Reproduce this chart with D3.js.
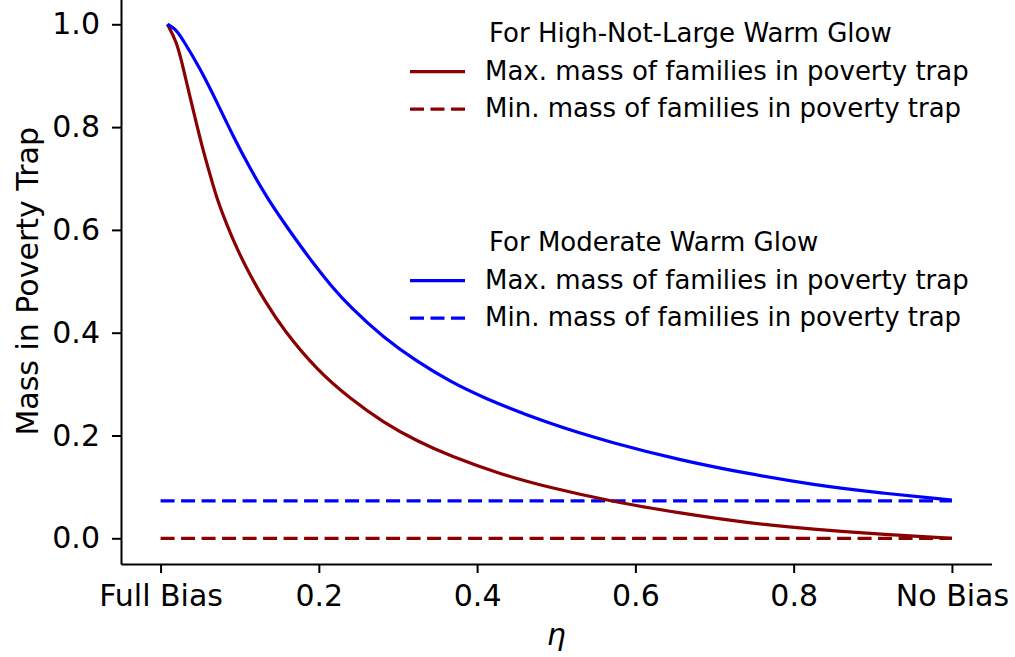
<!DOCTYPE html>
<html>
<head>
<meta charset="utf-8">
<script src="https://cdn.jsdelivr.net/npm/d3@7"></script>
<style>
  body { margin: 0; background: #fff; }
  svg { font-family: "DejaVu Sans", sans-serif; }
</style>
</head>
<body>
<div id="chart"></div>
<script>
// values
const xTicks = [0, 0.2, 0.4, 0.6, 0.8, 1.0];
const xTickNames = ["Full Bias", "0.2", "0.4", "0.6", "0.8", "No Bias"];
const yTicks = [0, 0.2, 0.4, 0.6, 0.8, 1.0];

// high-not-large warm glow, max mass
const etaHigh = [0.0086, 0.0205, 0.0288, 0.0373, 0.0458, 0.0541, 0.0626, 0.0711, 0.0837, 0.0963, 0.113, 0.132, 0.155, 0.197, 0.240, 0.282, 0.324, 0.366, 0.429, 0.488, 0.572, 0.657, 0.741, 0.825, 0.910, 1.0];
const maxHigh = [1.0, 0.966, 0.914, 0.858, 0.804, 0.753, 0.707, 0.661, 0.610, 0.564, 0.512, 0.461, 0.406, 0.328, 0.271, 0.225, 0.189, 0.160, 0.125, 0.100, 0.071, 0.049, 0.030, 0.0175, 0.0078, 0.0];

// moderate warm glow, max mass
const etaMod = [0.0086, 0.0183, 0.0288, 0.0499, 0.0711, 0.092, 0.113, 0.134, 0.155, 0.176, 0.197, 0.214, 0.240, 0.282, 0.324, 0.366, 0.404, 0.488, 0.572, 0.657, 0.741, 0.825, 0.910, 1.0];
const maxMod = [1.0, 0.992, 0.969, 0.914, 0.849, 0.781, 0.720, 0.664, 0.616, 0.570, 0.527, 0.494, 0.449, 0.390, 0.344, 0.305, 0.276, 0.224, 0.185, 0.152, 0.126, 0.104, 0.088, 0.0745];

const minHigh = 0.0;
const minMod = 0.073;
const minEta = [0, 1];

const legends = [
    { title: "For High-Not-Large Warm Glow", color: "#8b0000", offset: 0 },
    { title: "For Moderate Warm Glow", color: "#0000ff", offset: 209 }
];
const legendLabels = ["Max. mass of families in poverty trap", "Min. mass of families in poverty trap"];

const W = 1015, H = 657;
const plotLeft = 121, plotRight = 991.5, plotTop = -1.4, plotBottom = 564;

const svg = d3.select("#chart").append("svg")
    .attr("width", W)
    .attr("height", H);

const x = d3.scaleLinear([-0.05, 1.05], [plotLeft, plotRight]);
const y = d3.scaleLinear([-0.05, 1.05], [plotBottom, plotTop]);

const lw = 3.2;
const dash = "14,6.5";

const line = d3.line()
    .x(d => x(d[0]))
    .y(d => y(d[1]))
    .curve(d3.curveBasis);

// min lines
svg.append("path")
    .attr("d", line(minEta.map(e => [e, minHigh])))
    .attr("fill", "none").attr("stroke", "#8b0000")
    .attr("stroke-width", lw).attr("stroke-dasharray", dash);
svg.append("path")
    .attr("d", line(minEta.map(e => [e, minMod])))
    .attr("fill", "none").attr("stroke", "#0000ff")
    .attr("stroke-width", lw).attr("stroke-dasharray", dash);

// max curves
svg.append("path")
    .attr("d", line(etaHigh.map((e, i) => [e, maxHigh[i]])))
    .attr("fill", "none").attr("stroke", "#8b0000")
    .attr("stroke-width", lw);
svg.append("path")
    .attr("d", line(etaMod.map((e, i) => [e, maxMod[i]])))
    .attr("fill", "none").attr("stroke", "#0000ff")
    .attr("stroke-width", lw);

// axes
const xAxis = svg.append("g")
    .attr("transform", "translate(0," + plotBottom + ")")
    .call(d3.axisBottom(x)
        .tickValues(xTicks)
        .tickFormat((d, i) => xTickNames[i])
        .tickSize(9).tickSizeOuter(0).tickPadding(11.7));

const yAxis = svg.append("g")
    .attr("transform", "translate(" + plotLeft + ",0)")
    .call(d3.axisLeft(y)
        .tickValues(yTicks)
        .tickFormat(d3.format(".1f"))
        .tickSize(9).tickSizeOuter(0).tickPadding(12));

[xAxis, yAxis].forEach(a => {
    a.selectAll("text").attr("font-size", 30).attr("fill", "#000")
        .attr("font-family", "DejaVu Sans");
    a.select(".domain").attr("stroke-width", 2);
    a.selectAll(".tick line").attr("stroke-width", 2);
});

svg.append("text")
    .attr("transform", "translate(38," + ((plotTop + plotBottom) / 2) + ") rotate(-90)")
    .attr("text-anchor", "middle")
    .attr("font-size", 30)
    .text("Mass in Poverty Trap");

svg.append("text")
    .attr("x", (plotLeft + plotRight) / 2)
    .attr("y", 645)
    .attr("text-anchor", "middle")
    .attr("font-size", 30)
    .attr("font-style", "italic")
    .text("η");

// legends
legends.forEach(l => {
    const g = svg.append("g").attr("transform", "translate(0," + l.offset + ")");
    g.append("text")
        .attr("x", 489).attr("y", 42)
        .attr("font-size", 26)
        .text(l.title);
    legendLabels.forEach((lab, i) => {
        const yy = 71.7 + i * 37.5;
        g.append("line")
            .attr("x1", 410).attr("x2", 465)
            .attr("y1", yy).attr("y2", yy)
            .attr("stroke", l.color).attr("stroke-width", lw)
            .attr("stroke-dasharray", i === 1 ? dash : null);
        g.append("text")
            .attr("x", 485).attr("y", yy + 8)
            .attr("font-size", 26)
            .text(lab);
    });
});
</script>
</body>
</html>
